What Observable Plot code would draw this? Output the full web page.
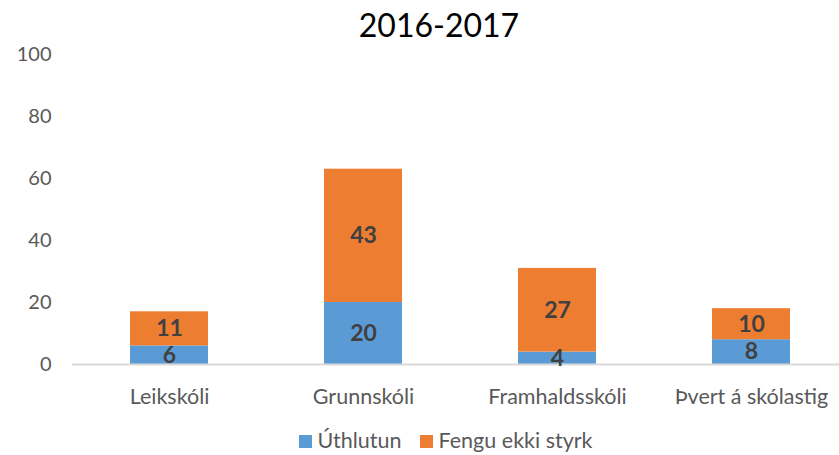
<!DOCTYPE html>
<html>
<head>
<meta charset="utf-8">
<script src="https://cdn.jsdelivr.net/npm/d3@7"></script>
<script src="https://cdn.jsdelivr.net/npm/@observablehq/plot@0.6"></script>
<style>
  html, body { margin: 0; padding: 0; background: #fff; overflow: hidden; }
  #wrap { position: relative; width: 839px; height: 455px; font-family: Lato, "Open Sans", sans-serif; }
  #title { position: absolute; left: 0; width: 878px; top: 6px; text-align: center; font-size: 32px; color: #000; line-height: 38px; }
  #legend { position: absolute; left: 0; width: 891px; top: 426px; text-align: center; font-size: 21.5px; color: #595959; line-height: 28px; }
  #legend span.item { display: inline-block; margin: 0 9px; }
  #legend span.sw { display: inline-block; width: 13px; height: 13px; margin-right: 6px; vertical-align: 0px; }
  #chart { position: absolute; left: 0; top: 0; }
</style>
</head>
<body>
<div id="wrap">
  <div id="chart"></div>
  <div id="title">2016-2017</div>
  <div id="legend"></div>
</div>
<script>
const categories = ["Leikskóli", "Grunnskóli", "Framhaldsskóli", "Þvert á skólastig"];
const seriesNames = ["Úthlutun", "Fengu ekki styrk"];
const uthlutun = [6, 20, 4, 8];
const fenguEkki = [11, 43, 27, 10];
const yTicks = [0, 20, 40, 60, 80, 100];
const colors = ["#5B9BD5", "#ED7D31"];

const data = [];
categories.forEach((c, i) => {
  data.push({cat: c, series: seriesNames[0], value: uthlutun[i]});
  data.push({cat: c, series: seriesNames[1], value: fenguEkki[i]});
});

const chart = Plot.plot({
  width: 839,
  height: 455,
  marginTop: 54,
  marginBottom: 91,
  marginLeft: 72,
  marginRight: 0,
  style: {fontFamily: "Lato, 'Open Sans', sans-serif", background: "transparent", overflow: "hidden"},
  x: {domain: categories, range: [72, 848], padding: 0.6, paddingOuter: 0.3, label: null},
  y: {domain: [0, 100], ticks: yTicks, label: null},
  color: {domain: seriesNames, range: colors},
  marks: [
    Plot.axisY({ticks: yTicks, tickSize: 0, tickPadding: 21, fontSize: 20, color: "#595959", label: null}),
    Plot.axisX({tickSize: 0, tickPadding: 24, fontSize: 21.5, color: "#595959", label: null}),
    Plot.barY(data, {x: "cat", y: "value", fill: "series", order: seriesNames}),
    Plot.ruleY([0], {stroke: "#D9D9D9", strokeWidth: 2}),
    Plot.text(data, Plot.stackY({x: "cat", y: "value", z: "series", order: seriesNames, text: d => String(d.value), fill: "#404040", fontWeight: "bold", fontSize: 23}))
  ]
});
document.getElementById("chart").appendChild(chart);

const legend = document.getElementById("legend");
seriesNames.forEach((s, i) => {
  const item = document.createElement("span");
  item.className = "item";
  const sw = document.createElement("span");
  sw.className = "sw";
  sw.style.background = colors[i];
  item.appendChild(sw);
  item.appendChild(document.createTextNode(s));
  legend.appendChild(item);
});
</script>
</body>
</html>
